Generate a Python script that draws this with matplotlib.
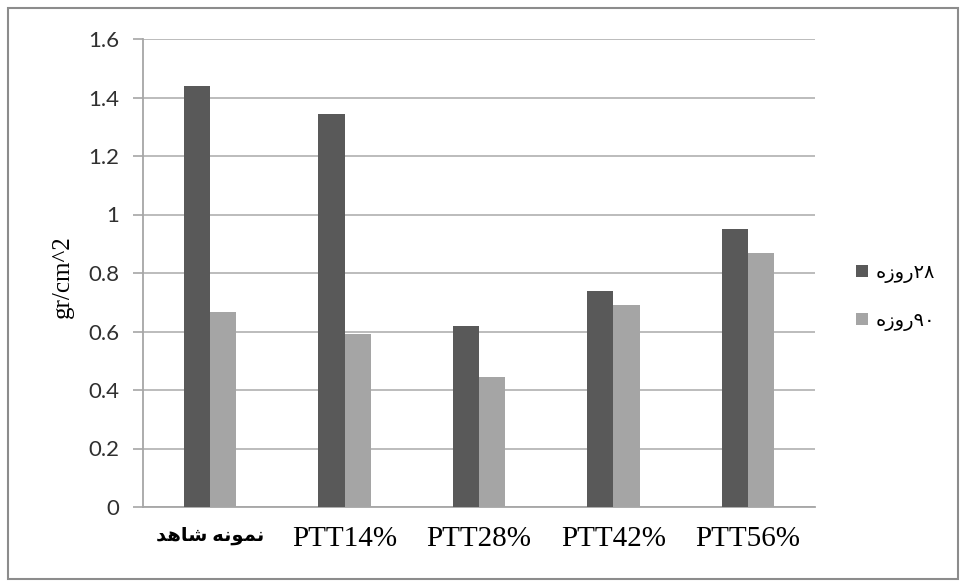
import matplotlib
matplotlib.use("Agg")
import matplotlib.pyplot as plt
import numpy as np
from matplotlib.patches import Rectangle

# Persian strings are written in visual order with their joined glyph forms,
# because matplotlib does no Arabic shaping or bidi reordering on its own
categories = ["\uFEAA\uFEEB\uFE8E\uFEB7 \uFEEA\uFEE7\uFEEE\uFEE4\uFEE7",
              "PTT14%", "PTT28%", "PTT42%", "PTT56%"]
series_names = ["\u0647\u0632\u0648\u0631\u06F2\u06F8",   # 28 days
                "\u0647\u0632\u0648\u0631\u06F9\u06F0"]   # 90 days
values_28 = [1.44, 1.345, 0.62, 0.74, 0.95]
values_90 = [0.665, 0.59, 0.445, 0.69, 0.87]
yticks = [0, 0.2, 0.4, 0.6, 0.8, 1.0, 1.2, 1.4, 1.6]
ytick_labels = ["0", "0.2", "0.4", "0.6", "0.8", "1", "1.2", "1.4", "1.6"]

fig = plt.figure(figsize=(9.6, 5.81), dpi=100)
ax = fig.add_axes([143 / 960, 1 - 507 / 581, 672 / 960, 468 / 581])

x = np.arange(len(categories))
w = 0.195
ax.bar(x - w / 2, values_28, w, color="#595959", label=series_names[0], zorder=3)
ax.bar(x + w / 2, values_90, w, color="#a5a5a5", label=series_names[1], zorder=3)

ax.set_xlim(-0.5, len(categories) - 0.5)
ax.set_ylim(0, 1.6)
ax.set_yticks(yticks)
ax.set_yticklabels(ytick_labels, fontfamily="Lato", fontsize=16, color="#303030")
ax.yaxis.grid(True, color="#b0b0b0", linewidth=1.2, zorder=0)
ax.tick_params(axis="y", direction="out", length=7, width=1.2, color="#a6a6a6", pad=10)

ax.set_xticks(x)
ax.set_xticklabels(categories, fontfamily=["Liberation Serif", "DejaVu Sans"], fontsize=21)
ax.get_xticklabels()[0].set_fontsize(14)
ax.get_xticklabels()[0].set_fontweight("bold")
ax.tick_params(axis="x", length=0, pad=14)

for side in ["top", "right"]:
    ax.spines[side].set_visible(False)
for side in ["left", "bottom"]:
    ax.spines[side].set_color("#a6a6a6")
    ax.spines[side].set_linewidth(1.3)

fig.text(63 / 960, 1 - 277 / 581, "gr/cm^2", rotation=90, ha="center", va="center",
         fontfamily="Liberation Serif", fontsize=18)

ax.legend(loc="center left", bbox_to_anchor=(856 / 960, 1 - 297 / 581),
          bbox_transform=fig.transFigure, frameon=False, borderpad=0,
          borderaxespad=0, handlelength=0.6, handleheight=0.6,
          handletextpad=0.4, labelspacing=1.45,
          prop={"family": "DejaVu Sans", "size": 14})

# thin frame around the whole chart
fig.patches.append(Rectangle((8 / 960, 2 / 581), 950 / 960, 571 / 581,
                             transform=fig.transFigure, fill=False,
                             edgecolor="#8c8c8c", linewidth=1.5))

plt.savefig("out.png", dpi=100)
